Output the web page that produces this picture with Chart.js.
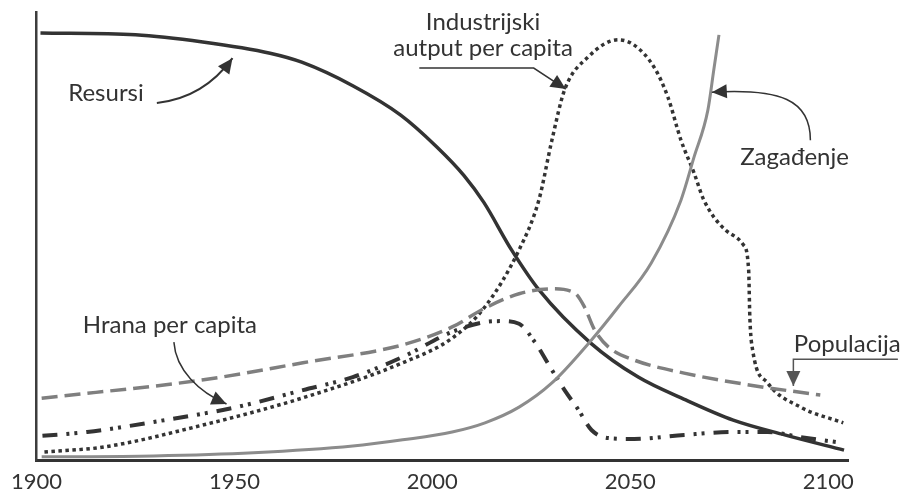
<!DOCTYPE html>
<html>
<head>
<meta charset="utf-8">
<script src="https://cdn.jsdelivr.net/npm/chart.js@4.4.1/dist/chart.umd.min.js"></script>
<style>
  html, body { margin: 0; padding: 0; background: #fff; }
  #wrap { width: 905px; height: 493px; }
</style>
</head>
<body>
<div id="wrap"><canvas id="chart" width="905" height="493"></canvas></div>
<script>
// Podaci (godina, relativna vrijednost 0-100)
const xTicks = [1900, 1950, 2000, 2050, 2100];

const resursiYears  = [1901, 1925, 1942, 1959, 1967, 1980, 1992, 2001, 2008, 2013, 2020, 2027, 2040, 2052, 2064, 2076, 2089, 2104];
const resursiValues = [95.3, 94.9, 93.3, 90.8, 88.8, 83.5, 77.0, 70.0, 63.5, 57.5, 46.9, 37.9, 26.1, 18.5, 13.4, 8.9, 5.6, 2.2];

const industrijaYears  = [1902, 1917, 1942, 1967, 1992.5, 2005, 2013.3, 2021.9, 2026.9, 2030.2, 2033.4, 2039.4, 2047, 2051, 2056, 2059.5, 2062.8, 2066.1, 2068.6, 2074.1, 2078.6, 2079.9, 2080.2, 2080.9, 2084.7, 2093, 2103.8];
const industrijaValues = [1.8, 2.9, 7.8, 13.8, 21.7, 27.2, 34.2, 46.9, 58.0, 71.4, 82.6, 90.0, 93.8, 92.6, 87.7, 81.0, 71.4, 64.1, 58.0, 51.3, 48.0, 42.4, 31.9, 24.6, 17.2, 11.8, 8.3];

const zagadjenjeYears  = [1901.3, 1929.6, 1954.8, 1979.9, 1992.5, 2005, 2013.3, 2021.9, 2030.2, 2040.2, 2047, 2055.3, 2062.8, 2066.1, 2069.6, 2071.1, 2072.4];
const zagadjenjeValues = [0.7, 0.9, 1.6, 3.1, 4.5, 6.25, 8.3, 11.8, 17.2, 26.8, 34.2, 44.0, 58.0, 67.6, 78.1, 87.1, 94.9];

const populacijaYears  = [1901.3, 1942.2, 1967.3, 1992.5, 2005, 2013.3, 2021.9, 2030.2, 2035.9, 2038.4, 2041, 2044.5, 2051, 2063.6, 2080.4, 2098];
const populacijaValues = [13.8, 17.9, 21.7, 25.7, 29.7, 33.9, 37.1, 38.2, 37.3, 34.2, 29.0, 25.2, 22.3, 19.4, 16.7, 14.5];

const hranaYears  = [1901.5, 1912.8, 1929.6, 1950.5, 1967.3, 1979.9, 1992.5, 2005, 2013.3, 2017.6, 2021.9, 2025.9, 2030.2, 2033.4, 2036.9, 2040.2, 2044.5, 2051, 2063.6, 2076.1, 2084.7, 2093, 2103.8];
const hranaValues = [5.4, 6.25, 8.5, 11.8, 15.6, 18.5, 23.0, 28.6, 30.8, 31.0, 30.4, 26.3, 20.1, 15.6, 11.2, 6.7, 4.9, 4.7, 5.6, 6.25, 6.25, 5.1, 3.8];

function toPoints(xs, ys) {
    return xs.map((x, i) => ({ x: x, y: ys[i] }));
}

const FONT = 'Lato, "Open Sans", sans-serif';
const DARK = '#333333';
const GREY = '#8c8c8c';

// Natpisi sa strelicama (položaji u jedinicama podataka)
const annotations = [
    { text: ['Resursi'], at: [1908.0, 80.1], align: 'left',
      arrow: { type: 'quad', pts: [[1930.4, 79.7], [1942.2, 80.8], [1949.5, 89.7]], width: 2, color: DARK } },
    { text: ['Industrijski', 'autput per capita'], at: [2012.8, 96.0], align: 'center',
      arrow: { type: 'poly', pts: [[1996.7, 87.5], [2025.6, 87.5], [2033.7, 82.8]], width: 1.5, color: DARK } },
    { text: ['Zagađenje'], at: [2091.5, 65.8], align: 'center',
      arrow: { type: 'cubic', pts: [[2095.5, 71.4], [2095.5, 80.4], [2087.9, 83.0], [2070.6, 82.1]], width: 1.5, color: DARK } },
    { text: ['Hrana per capita'], at: [1933.7, 28.3], align: 'center',
      arrow: { type: 'cubic', pts: [[1934.7, 26.3], [1935.2, 20.1], [1941.0, 15.2], [1948.0, 12.5]], width: 1.5, color: DARK } },
    { text: ['Populacija'], at: [2104.8, 24.1], align: 'center',
      arrow: { type: 'poly', pts: [[2117.6, 22.5], [2091.2, 22.5], [2091.2, 16.5]], width: 1.5, color: '#555555' } }
];

function arrowHead(ctx, fx, fy, tx, ty, len, half) {
    const a = Math.atan2(ty - fy, tx - fx);
    ctx.beginPath();
    ctx.moveTo(tx, ty);
    ctx.lineTo(tx - len * Math.cos(a) + half * Math.sin(a), ty - len * Math.sin(a) - half * Math.cos(a));
    ctx.lineTo(tx - len * Math.cos(a) - half * Math.sin(a), ty - len * Math.sin(a) + half * Math.cos(a));
    ctx.closePath();
    ctx.fill();
}

const annotationPlugin = {
    id: 'natpisi',
    afterDatasetsDraw(chart) {
        const ctx = chart.ctx;
        const sx = chart.scales.x, sy = chart.scales.y;
        const P = p => [sx.getPixelForValue(p[0]), sy.getPixelForValue(p[1])];
        ctx.save();
        ctx.font = '24px ' + FONT;
        ctx.textBaseline = 'alphabetic';
        annotations.forEach(a => {
            const [x, y] = P(a.at);
            ctx.fillStyle = DARK;
            ctx.textAlign = a.align;
            a.text.forEach((t, i) => ctx.fillText(t, x, y + i * 26));

            const pts = a.arrow.pts.map(P);
            ctx.strokeStyle = a.arrow.color;
            ctx.fillStyle = a.arrow.color;
            ctx.lineWidth = a.arrow.width;
            ctx.setLineDash([]);
            ctx.beginPath();
            ctx.moveTo(pts[0][0], pts[0][1]);
            if (a.arrow.type === 'quad') {
                ctx.quadraticCurveTo(pts[1][0], pts[1][1], pts[2][0], pts[2][1]);
            } else if (a.arrow.type === 'cubic') {
                ctx.bezierCurveTo(pts[1][0], pts[1][1], pts[2][0], pts[2][1], pts[3][0], pts[3][1]);
            } else {
                for (let i = 1; i < pts.length; i++) ctx.lineTo(pts[i][0], pts[i][1]);
            }
            ctx.stroke();
            const tip = pts[pts.length - 1], prev = pts[pts.length - 2];
            arrowHead(ctx, prev[0], prev[1], tip[0], tip[1], 15, 7);
        });
        ctx.restore();
    }
};

const ctx = document.getElementById('chart').getContext('2d');
const chart = new Chart(ctx, {
    type: 'line',
    data: {
        datasets: [
            { label: 'Zagađenje', data: toPoints(zagadjenjeYears, zagadjenjeValues),
              borderColor: GREY, borderWidth: 3 },
            { label: 'Populacija', data: toPoints(populacijaYears, populacijaValues),
              borderColor: '#7f7f7f', borderWidth: 3.5, borderDash: [16, 7] },
            { label: 'Hrana per capita', data: toPoints(hranaYears, hranaValues),
              borderColor: DARK, borderWidth: 4, borderDash: [15, 9, 3, 5, 3, 9] },
            { label: 'Industrijski autput per capita', data: toPoints(industrijaYears, industrijaValues),
              borderColor: DARK, borderWidth: 3.5, borderDash: [3.5, 3.5] },
            { label: 'Resursi', data: toPoints(resursiYears, resursiValues),
              borderColor: DARK, borderWidth: 3.5 }
        ]
    },
    options: {
        responsive: false,
        animation: false,
        devicePixelRatio: 1,
        layout: { padding: { left: 32, right: 57, top: 12, bottom: 0 } },
        elements: {
            point: { radius: 0 },
            line: { cubicInterpolationMode: 'monotone', fill: false, borderCapStyle: 'butt' }
        },
        datasets: { line: { clip: false } },
        plugins: {
            legend: { display: false },
            tooltip: { enabled: false }
        },
        scales: {
            x: {
                type: 'linear',
                min: 1900,
                max: 2105,
                grid: { display: false, drawTicks: false },
                border: { display: true, color: DARK, width: 3 },
                afterBuildTicks: axis => { axis.ticks = xTicks.map(v => ({ value: v })); },
                afterFit: axis => { axis.height = 33; },
                ticks: {
                    color: DARK,
                    padding: 11,
                    maxRotation: 0,
                    autoSkip: false,
                    font: { family: FONT, size: 22, lineHeight: 1 },
                    callback: v => String(v)
                }
            },
            y: {
                min: 0,
                max: 100,
                grid: { display: false, drawTicks: false },
                border: { display: true, color: '#3d3d3d', width: 2.5 },
                ticks: { display: false }
            }
        }
    },
    plugins: [annotationPlugin]
});
</script>
</body>
</html>
